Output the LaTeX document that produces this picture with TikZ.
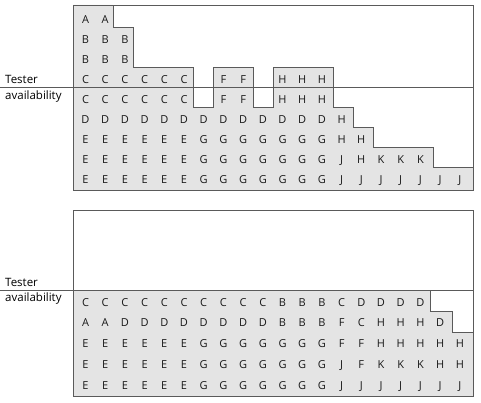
\documentclass[tikz,border=0pt]{standalone}
\usepackage{fontspec}
\setmainfont{Open Sans}

\definecolor{slotfill}{HTML}{E4E4E4}
\definecolor{slotline}{HTML}{5A5A5A}

\tikzset{
  cell/.style={anchor=base,inner sep=0pt,text=black!90,
    font=\fontsize{11}{13}\selectfont},
  lbl/.style={anchor=base west,inner sep=0pt,
    font=\fontsize{11.5}{13}\selectfont},
  frame/.style={draw=slotline,line width=0.8pt},
  busy/.style={fill=slotfill,draw=slotline,line width=0.8pt}
}

\begin{document}
\begin{tikzpicture}[x=1pt,y=-1pt]
   \useasboundingbox (0,0) rectangle (481,403);
   % upper schedule: frame and the occupied slots
   \draw [frame] (73,5) rectangle (473,190.5);
   \draw [busy] (73,5) -- (113,5) -- (113,27.5) -- (133,27.5) -- (133,67.5)
      -- (193,67.5) -- (193,107.5) -- (213,107.5) -- (213,67.5) -- (253,67.5)
      -- (253,107.5) -- (273,107.5) -- (273,67.5) -- (333,67.5) -- (333,107.5)
      -- (353,107.5) -- (353,127.5) -- (373,127.5) -- (373,147.5) -- (433,147.5)
      -- (433,167.5) -- (473,167.5) -- (473,190.5) -- (73,190.5) -- cycle;
   % tester availability line
   \coordinate (up-l) at (0,87.5);
   \coordinate (up-r) at (473,87.5);
   \draw [frame] (up-l) -- (up-r);
   \node [lbl] (up-tester) at (5,84) {Tester};
   \node [lbl] (up-avail) at (5,99.5) {availability};
   % fill in the letters row by row
   \foreach \row [count=\r] in {{A,A},{B,B,B},{B,B,B},
       {C,C,C,C,C,C,,F,F,,H,H,H},{C,C,C,C,C,C,,F,F,,H,H,H},
       {D,D,D,D,D,D,D,D,D,D,D,D,D,H},
       {E,E,E,E,E,E,G,G,G,G,G,G,G,H,H},
       {E,E,E,E,E,E,G,G,G,G,G,G,G,J,H,K,K,K},
       {E,E,E,E,E,E,G,G,G,G,G,G,G,J,J,J,J,J,J,J}} {
     \foreach \l [count=\c] in \row {
       \ifx\l\empty\else
         \node [cell] (up-\r-\c) at ({85.5+19.7*(\c-1)},{23.5+20*(\r-1)}) {\l};
       \fi}}

   % lower schedule: frame and the occupied slots
   \draw [frame] (73,210) rectangle (473,396);
   \draw [busy] (73,290) -- (430,290) -- (430,311) -- (452,311) -- (452,332)
      -- (473,332) -- (473,396) -- (73,396) -- cycle;
   % tester availability line
   \coordinate (lo-l) at (0,290);
   \coordinate (lo-r) at (473,290);
   \draw [frame] (lo-l) -- (lo-r);
   \node [lbl] (lo-tester) at (5,286) {Tester};
   \node [lbl] (lo-avail) at (5,301.5) {availability};
   % fill in the letters row by row
   \foreach \row [count=\r] in {
       {C,C,C,C,C,C,C,C,C,C,B,B,B,C,D,D,D,D},
       {A,A,D,D,D,D,D,D,D,D,B,B,B,F,C,H,H,H,D},
       {E,E,E,E,E,E,G,G,G,G,G,G,G,F,F,H,H,H,H,H},
       {E,E,E,E,E,E,G,G,G,G,G,G,G,J,F,K,K,K,H,H},
       {E,E,E,E,E,E,G,G,G,G,G,G,G,J,J,J,J,J,J,J}} {
     \foreach \l [count=\c] in \row {
       \node [cell] (lo-\r-\c) at ({85.5+19.7*(\c-1)},{306+20.9*(\r-1)}) {\l};}}
\end{tikzpicture}
\end{document}
